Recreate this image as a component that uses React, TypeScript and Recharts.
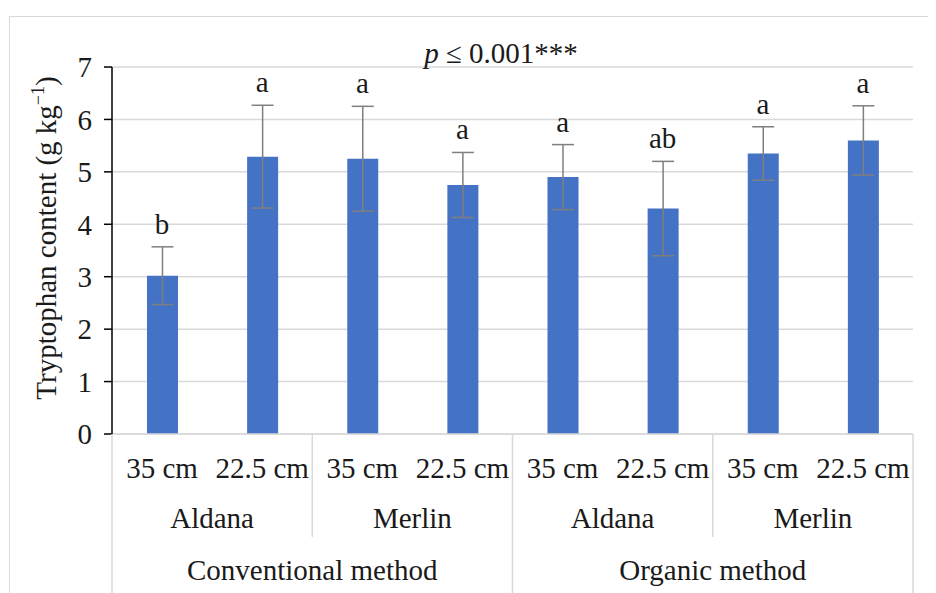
import React from "react";
import { ComposedChart, Bar, Line, XAxis, YAxis, CartesianGrid, ErrorBar, LabelList } from "recharts";

const sizes = ["35 cm", "22.5 cm", "35 cm", "22.5 cm", "35 cm", "22.5 cm", "35 cm", "22.5 cm"];
const varieties = ["Aldana", "Merlin", "Aldana", "Merlin"];
const methods = ["Conventional method", "Organic method"];
const means = [3.02, 5.29, 5.25, 4.75, 4.9, 4.3, 5.35, 5.6];
const errs = [0.55, 0.98, 1.0, 0.62, 0.62, 0.9, 0.51, 0.66];
const letters = ["b", "a", "a", "a", "a", "ab", "a", "a"];
const yTicks = [0, 1, 2, 3, 4, 5, 6, 7];

const data = sizes.map((s, i) => ({
  size: s,
  mean: means[i],
  err: errs[i],
  top: means[i] + errs[i],
  letter: letters[i],
}));

const W = 936;
const H = 593;
const M = { top: 67, right: 23, bottom: 0, left: 52 };
const YW = 60;
const XH = 159;
const PLOT_W = W - M.left - YW - M.right;
const BAND = PLOT_W / sizes.length;
const FONT = '"Liberation Serif", "Times New Roman", serif';
const FS = 29;
const TXT = "#1a1a1a";
const GRID = "#d9d9d9";

const XTick = (props: any) => {
  const { x, y, payload } = props;
  const i = payload.index;
  const els: React.ReactNode[] = [];
  els.push(
    <text key="s" x={x} y={y + 44} textAnchor="middle" fontSize={FS} fontFamily={FONT} fill={TXT}>
      {payload.value}
    </text>
  );
  if (i % 2 === 0) {
    els.push(
      <text key="v" x={x + BAND / 2} y={y + 94} textAnchor="middle" fontSize={FS} fontFamily={FONT} fill={TXT}>
        {varieties[i / 2]}
      </text>
    );
    els.push(
      <line key="l" x1={x - BAND / 2} x2={x - BAND / 2} y1={y} y2={y + (i % 4 === 0 ? XH : 103)} stroke={GRID} strokeWidth={1.5} />
    );
  }
  if (i % 4 === 0) {
    els.push(
      <text key="m" x={x + BAND * 1.5} y={y + 146} textAnchor="middle" fontSize={FS} fontFamily={FONT} fill={TXT}>
        {methods[i / 4]}
      </text>
    );
  }
  if (i === sizes.length - 1) {
    els.push(<line key="r" x1={x + BAND / 2} x2={x + BAND / 2} y1={y} y2={y + XH} stroke={GRID} strokeWidth={1.5} />);
  }
  return <g>{els}</g>;
};

const LetterLabel = (props: any) => {
  const { x, y, value } = props;
  return (
    <text x={x} y={y - 13} textAnchor="middle" fontSize={FS} fontFamily={FONT} fill={TXT}>
      {value}
    </text>
  );
};

const YLabel = () => (
  <text
    transform="translate(56, 238) rotate(-90)"
    textAnchor="middle"
    fontSize={FS}
    fontFamily={FONT}
    fill={TXT}
  >
    Tryptophan content (g kg
    <tspan fontSize={18} dy={-12}>−1</tspan>
    <tspan dy={12}>)</tspan>
  </text>
);

export default function App() {
  return (
    <div style={{ position: "relative", width: W, height: H, margin: "-8px 0 0 -8px", overflow: "hidden", background: "#fff" }}>
      <div
        style={{
          position: "absolute",
          left: 9,
          top: 16,
          width: 1200,
          height: 900,
          borderLeft: `1.5px solid ${GRID}`,
          borderTop: `1.5px solid ${GRID}`,
        }}
      />
      <div style={{ position: "absolute", left: 0, top: 0 }}>
        <ComposedChart width={W} height={H} data={data} margin={M}>
          <CartesianGrid vertical={false} stroke={GRID} strokeWidth={1.5} />
          <XAxis
            dataKey="size"
            interval={0}
            height={XH}
            tickSize={0}
            tickMargin={0}
            tickLine={false}
            axisLine={{ stroke: GRID, strokeWidth: 1.5 }}
            tick={<XTick />}
          />
          <YAxis
            width={YW}
            domain={[0, 7]}
            ticks={yTicks}
            interval={0}
            tickSize={8}
            tickMargin={12}
            axisLine={{ stroke: "#000", strokeWidth: 1.5 }}
            tickLine={{ stroke: "#000", strokeWidth: 1.5 }}
            tick={{ fontSize: FS, fontFamily: FONT, fill: TXT }}
            label={<YLabel />}
          />
          <Bar dataKey="mean" fill="#4472C4" barSize={31} isAnimationActive={false}>
            <ErrorBar dataKey="err" width={11} stroke="#7f7f7f" strokeWidth={1.5} direction="y" />
          </Bar>
          <Line dataKey="top" stroke="none" dot={false} activeDot={false} isAnimationActive={false}>
            <LabelList dataKey="letter" content={<LetterLabel />} />
          </Line>
        </ComposedChart>
      </div>
      <svg style={{ position: "absolute", left: 0, top: 0 }} width={W} height={H}>
        <text x={501} y={63} textAnchor="middle" fontSize={FS} fontFamily={FONT} fill={TXT}>
          <tspan fontStyle="italic">p</tspan>
          <tspan> ≤ 0.001***</tspan>
        </text>
      </svg>
    </div>
  );
}
